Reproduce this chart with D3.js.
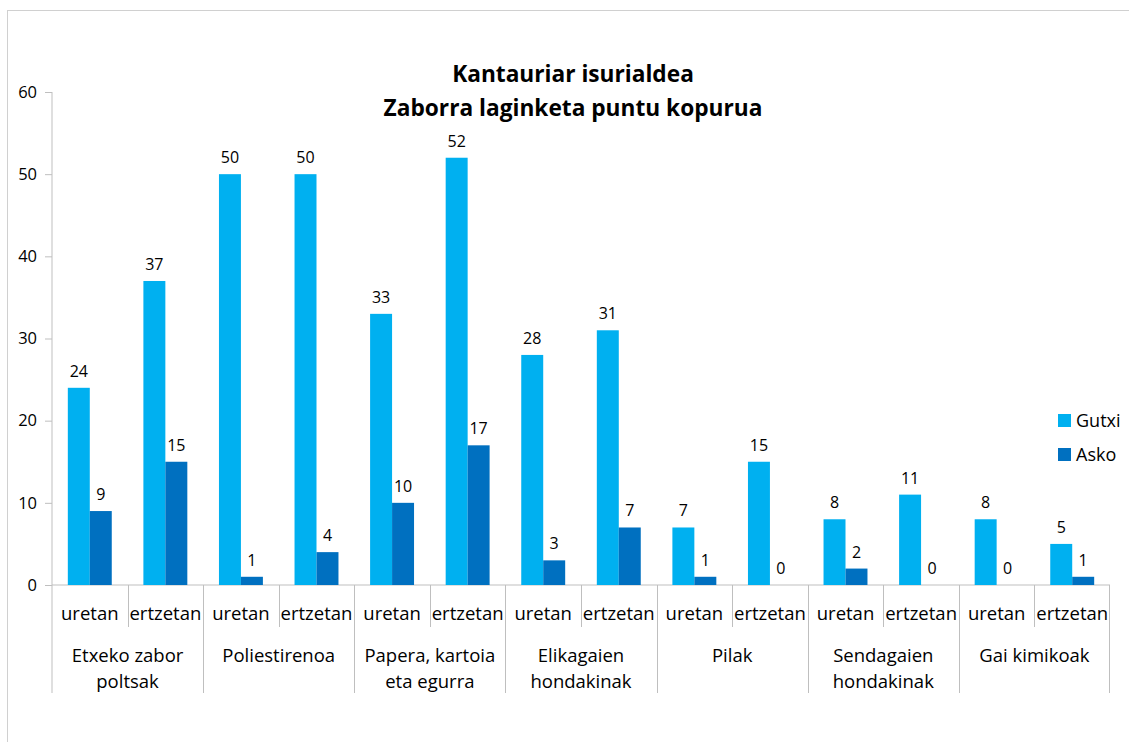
<!DOCTYPE html>
<html>
<head>
<meta charset="utf-8">
<script src="https://cdn.jsdelivr.net/npm/d3@7"></script>
<style>
  body { margin: 0; background: #fff; }
  text { font-family: "Open Sans", Lato, sans-serif; fill: #000; }
</style>
</head>
<body>
<script>
const categories = [
  ["Etxeko zabor", "poltsak"],
  ["Poliestirenoa"],
  ["Papera, kartoia", "eta egurra"],
  ["Elikagaien", "hondakinak"],
  ["Pilak"],
  ["Sendagaien", "hondakinak"],
  ["Gai kimikoak"]
];
const places = ["uretan", "ertzetan"];
const seriesNames = ["Gutxi", "Asko"];
const gutxi = [24, 37, 50, 50, 33, 52, 28, 31, 7, 15, 8, 11, 8, 5];
const asko = [9, 15, 1, 4, 10, 17, 3, 7, 1, 0, 2, 0, 0, 1];
const yTicks = [0, 10, 20, 30, 40, 50, 60];
const colors = ["#00b0f0", "#0070c0"];

const W = 1129, H = 742;
const margin = { left: 52, right: 19, top: 92, bottom: 157 };
const width = W - margin.left - margin.right;
const height = H - margin.top - margin.bottom;

const svg = d3.select("body").append("svg").attr("width", W).attr("height", H);

// chart frame (only top/left edges visible)
svg.append("rect")
  .attr("x", 7.5).attr("y", 10.5)
  .attr("width", 1200).attr("height", 800)
  .attr("fill", "none").attr("stroke", "#d0d0d0");

const g = svg.append("g").attr("transform", `translate(${margin.left},${margin.top})`);

const subs = d3.range(gutxi.length);
const x0 = d3.scaleBand().domain(subs).range([0, width]).paddingInner(0).paddingOuter(0);
const x1 = d3.scaleBand().domain(seriesNames).range([0, x0.bandwidth()]).paddingInner(0).paddingOuter(0.72);
const y = d3.scaleLinear().domain([0, 60]).range([height, 0]);

// y axis
const yaxis = d3.axisLeft(y).tickValues(yTicks).tickSize(7).tickPadding(8);
const ya = g.append("g").call(yaxis);
ya.select(".domain").remove();
ya.selectAll("line").attr("stroke", "#bfbfbf");
ya.selectAll("text").style("font-size", "16.5px").attr("fill", "#000");
g.append("line").attr("x1", 0).attr("x2", 0).attr("y1", 0).attr("y2", height + 108)
  .attr("stroke", "#bfbfbf");

// x axis baseline
g.append("line").attr("x1", 0).attr("x2", width).attr("y1", height).attr("y2", height)
  .attr("stroke", "#bfbfbf");

// separators
subs.forEach(i => {
  if (i === 0) return;
  const xx = Math.round(x0(i)) + 0.5;
  g.append("line").attr("x1", xx).attr("x2", xx)
    .attr("y1", height).attr("y2", height + (i % 2 === 0 ? 108 : 42))
    .attr("stroke", "#bfbfbf");
});
g.append("line").attr("x1", width - 0.5).attr("x2", width - 0.5)
  .attr("y1", height).attr("y2", height + 108).attr("stroke", "#bfbfbf");

// bars
const rows = subs.map(i => ({ i, vals: [gutxi[i], asko[i]] }));
const grp = g.selectAll("g.grp").data(rows).join("g")
  .attr("class", "grp")
  .attr("transform", d => `translate(${x0(d.i)},0)`);

grp.selectAll("rect")
  .data(d => d.vals.map((v, k) => ({ v, k })))
  .join("rect")
  .attr("x", d => x1(seriesNames[d.k]))
  .attr("width", x1.bandwidth())
  .attr("y", d => y(d.v))
  .attr("height", d => height - y(d.v))
  .attr("fill", d => colors[d.k]);

grp.selectAll("text.val")
  .data(d => d.vals.map((v, k) => ({ v, k })))
  .join("text")
  .attr("class", "val")
  .attr("x", d => x1(seriesNames[d.k]) + x1.bandwidth() / 2)
  .attr("y", d => y(d.v) - 11)
  .attr("text-anchor", "middle")
  .style("font-size", "16px")
  .text(d => d.v);

// sub labels
g.selectAll("text.sub").data(subs).join("text")
  .attr("class", "sub")
  .attr("x", i => x0(i) + x0.bandwidth() / 2)
  .attr("y", height + 35)
  .attr("text-anchor", "middle")
  .style("font-size", "18.5px")
  .text(i => places[i % 2]);

// category labels
categories.forEach((lines, c) => {
  const cx = x0(c * 2) + x0.bandwidth();
  const t = g.append("text").attr("text-anchor", "middle").style("font-size", "18.5px");
  lines.forEach((ln, j) => {
    t.append("tspan").attr("x", cx).attr("y", height + 77 + j * 26).text(ln);
  });
});

// title
const title = svg.append("text").attr("text-anchor", "middle")
  .style("font-size", "22.7px").style("font-weight", "bold");
title.append("tspan").attr("x", 573).attr("y", 82).text("Kantauriar isurialdea");
title.append("tspan").attr("x", 573).attr("y", 116).text("Zaborra laginketa puntu kopurua");

// legend
const lg = svg.append("g").attr("transform", "translate(1058,414)");
seriesNames.forEach((s, k) => {
  lg.append("rect").attr("x", 0).attr("y", k * 34).attr("width", 13).attr("height", 13).attr("fill", colors[k]);
  lg.append("text").attr("x", 18).attr("y", k * 34 + 13).style("font-size", "18px").text(s);
});
</script>
</body>
</html>
